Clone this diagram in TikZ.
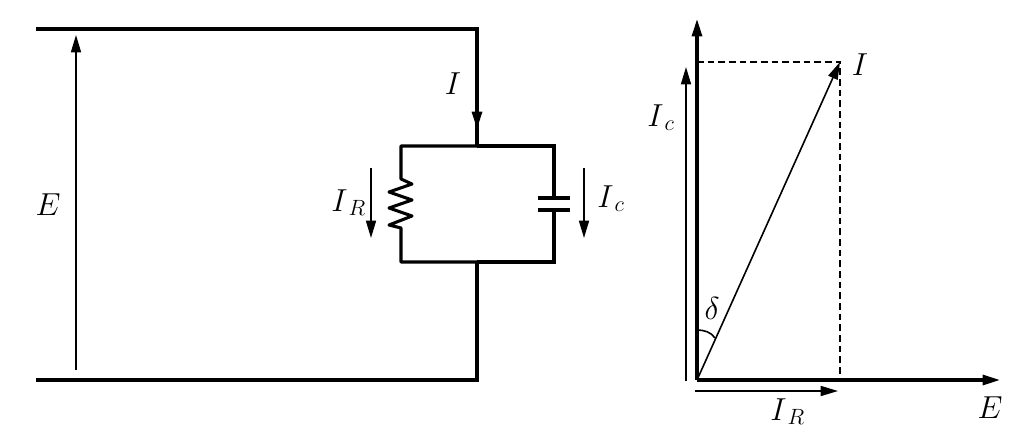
\documentclass[tikz,border=0pt]{standalone}
\usetikzlibrary{arrows.meta}
\tikzset{
  wire/.style={line width=2.3pt},
  thinwire/.style={line width=1.2pt},
  dashwire/.style={line width=1.6pt,dash pattern={on 5pt off 3pt}},
  tip/.style={-{Triangle[length=13pt,width=7.5pt]}},
  lbl/.style={inner sep=0pt,font=\huge,scale=1.15}
}
\begin{document}
\begin{tikzpicture}[x=0.75pt,y=0.75pt,yscale=-1,xscale=1]
\useasboundingbox (0,0) rectangle (1024,447);

% circuit points
\coordinate (topL) at (36,29);
\coordinate (topR) at (477,29);
\coordinate (arrI) at (477,129);
\coordinate (boxT) at (477,146);
\coordinate (boxTL) at (401,146);
\coordinate (boxTR) at (554,146);
\coordinate (boxBL) at (401,262);
\coordinate (boxBR) at (554,262);
\coordinate (boxB) at (477,262);
\coordinate (botR) at (477,380);
\coordinate (botL) at (36,380);
\coordinate (capT) at (554,198);
\coordinate (capB) at (554,210);

% supply and leads
\draw [wire] (topL) -- (topR) -- (boxT);
\draw [wire,tip] (topR) -- (arrI);
\draw [wire] (boxB) -- (botR) -- (botL);
\draw [thinwire,tip] (76,370) -- (76,35);

% resistor branch
\draw [wire,line join=round] (boxT) -- (boxTL) -- (401,179) -- (412,184) -- (389,192) -- (412,200) -- (389,208) -- (412,216) -- (389,225) -- (401,228) -- (boxBL) -- (boxB);

% capacitor branch
\draw [wire] (boxT) -- (boxTR) -- (capT);
\draw [wire] (capB) -- (boxBR) -- (boxB);
\draw [wire] (538,198) -- (570,198);
\draw [wire] (538,210) -- (570,210);

% branch currents
\draw [thinwire,tip] (371,168) -- (371,238);
\draw [thinwire,tip] (584,168) -- (584,238);

% phasor points
\coordinate (orig) at (697,380);
\coordinate (axisV) at (697,19);
\coordinate (axisH) at (1000,380);
\coordinate (phasor) at (840,62);
\coordinate (footI) at (840,380);
\coordinate (sideI) at (697,62);

% phasor diagram
\draw [dashwire] (sideI) -- (phasor) -- (footI);
\draw [wire,tip] (orig) -- (axisV);
\draw [wire,tip] (orig) -- (axisH);
\draw [thinwire,tip] (orig) -- (phasor);
\draw [thinwire,tip] (686,381) -- (686,67);
\draw [thinwire,tip] (695,391) -- (838,391);
\draw [thinwire] (697,330) .. controls (704,330) and (711,332) .. (715,338);

% Text Node
\node [lbl] (lblE) at (48,205) {$E$};
\node [lbl] (lblI) at (453,84) {$I$};
\node [lbl,anchor=base west] (lblIR) at (331,211) {$I_{\,R}$};
\node [lbl,anchor=base west] (lblIc) at (597,207) {$I_{\,c}$};
\node [lbl] (lblP) at (860,65) {$I$};
\node [lbl,anchor=base west] (lblPc) at (647,126) {$I_{\,c}$};
\node [lbl] (lblD) at (712,308) {$\delta$};
\node [lbl,anchor=base west] (lblPR) at (770,420) {$I_{\,R}$};
\node [lbl] (lblPE) at (990,408) {$E$};
\end{tikzpicture}
\end{document}
